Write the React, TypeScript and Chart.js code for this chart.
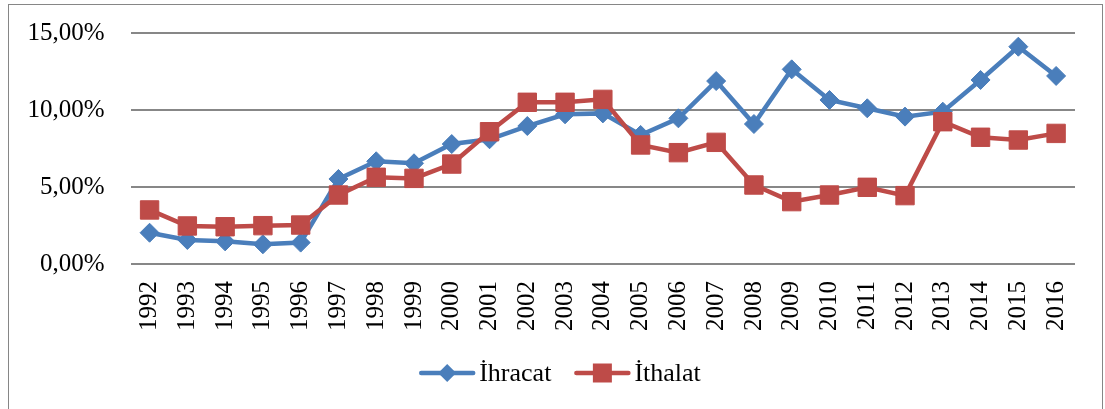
import React, { useEffect, useRef } from "react";
import { Chart, registerables } from "chart.js";

Chart.register(...registerables);

const years = ["1992","1993","1994","1995","1996","1997","1998","1999","2000","2001","2002","2003","2004","2005","2006","2007","2008","2009","2010","2011","2012","2013","2014","2015","2016"];
const ihracat = [2.03,1.56,1.47,1.28,1.39,5.52,6.67,6.54,7.79,8.1,8.96,9.72,9.78,8.38,9.46,11.88,9.09,12.64,10.65,10.11,9.57,9.89,11.95,14.11,12.21];
const ithalat = [3.51,2.47,2.42,2.49,2.53,4.48,5.63,5.56,6.49,8.59,10.5,10.5,10.69,7.73,7.23,7.9,5.13,4.05,4.48,4.98,4.44,9.24,8.23,8.05,8.48];
const seriesNames = ["İhracat", "İthalat"];
const seriesColors = ["#4A7EBB", "#BE4B48"];
const seriesShapes = ["rectRot", "rect"];
const yTicks = [0, 5, 10, 15];

const FONT = "'Liberation Serif', 'Times New Roman', serif";

const framePlugin = {
  id: "frame",
  beforeDraw(chart: any) {
    const ctx = chart.ctx;
    ctx.save();
    ctx.fillStyle = "#ffffff";
    ctx.fillRect(0, 0, chart.width, chart.height);
    ctx.strokeStyle = "#868686";
    ctx.lineWidth = 1;
    ctx.strokeRect(8.5, 4.5, 1094, 430);
    ctx.restore();
  },
  afterDraw(chart: any) {
    const ctx = chart.ctx;
    ctx.save();
    ctx.font = `26px ${FONT}`;
    ctx.textBaseline = "middle";
    const lineLen = 56;
    const gapText = 4;
    const gapItem = 23;
    const ds = chart.data.datasets;
    const widths = ds.map((d: any) => lineLen + gapText + ctx.measureText(d.label).width);
    const total = widths.reduce((a: number, b: number) => a + b, 0) + gapItem * (ds.length - 1);
    let x = 560 - total / 2;
    const y = 373;
    ds.forEach((d: any, i: number) => {
      ctx.strokeStyle = d.borderColor;
      ctx.lineWidth = 4.5;
      ctx.lineCap = "round";
      ctx.beginPath();
      ctx.moveTo(x + 2, y);
      ctx.lineTo(x + lineLen - 2, y);
      ctx.stroke();
      const cx = x + lineLen / 2;
      ctx.fillStyle = d.backgroundColor;
      ctx.beginPath();
      if (d.pointStyle === "rectRot") {
        const r = 9;
        ctx.moveTo(cx - r, y);
        ctx.lineTo(cx, y - r);
        ctx.lineTo(cx + r, y);
        ctx.lineTo(cx, y + r);
        ctx.closePath();
      } else {
        const s = 9.5;
        ctx.rect(cx - s, y - s, 2 * s, 2 * s);
      }
      ctx.fill();
      ctx.fillStyle = "#000000";
      ctx.textAlign = "left";
      ctx.fillText(d.label, x + lineLen + gapText, y + 1);
      x += widths[i] + gapItem;
    });
    ctx.restore();
  },
};

export default function App() {
  const ref = useRef<HTMLCanvasElement | null>(null);
  useEffect(() => {
    if (!ref.current) return;
    const data = [ihracat, ithalat];
    const chart = new Chart(ref.current, {
      type: "line",
      data: {
        labels: years,
        datasets: data.map((vals, i) => ({
          label: seriesNames[i],
          data: vals,
          borderColor: seriesColors[i],
          backgroundColor: seriesColors[i],
          pointBackgroundColor: seriesColors[i],
          pointBorderColor: seriesColors[i],
          pointBorderWidth: 1,
          pointStyle: seriesShapes[i] as any,
          pointRadius: i === 0 ? 9.5 : 13,
          borderWidth: 4.5,
          tension: 0,
          fill: false,
          order: i === 0 ? 1 : 0,
        })),
      },
      options: {
        responsive: false,
        animation: false,
        layout: { padding: { left: 0, top: 33, right: 30, bottom: 0 } },
        plugins: {
          legend: { display: false },
          tooltip: { enabled: false },
        },
        scales: {
          x: {
            offset: true,
            grid: { display: false, drawTicks: false },
            border: { display: false },
            ticks: {
              autoSkip: false,
              minRotation: 90,
              maxRotation: 90,
              padding: 17,
              color: "#000000",
              font: { family: FONT, size: 25 },
            },
            afterFit(scale: any) {
              scale.height = 145;
              scale.paddingLeft = 0;
              scale.paddingRight = 0;
            },
          },
          y: {
            min: 0,
            max: 15,
            afterBuildTicks(scale: any) {
              scale.ticks = yTicks.map((v) => ({ value: v }));
            },
            grid: { color: "#878787", lineWidth: 2, drawTicks: false },
            border: { display: false },
            ticks: {
              padding: 26,
              color: "#000000",
              font: { family: FONT, size: 25 },
              callback: (v: any) => Number(v).toFixed(2).replace(".", ",") + "%",
            },
            afterFit(scale: any) {
              scale.width = 130.7;
              scale.paddingTop = 0;
              scale.paddingBottom = 0;
            },
          },
        },
      },
      plugins: [framePlugin],
    });
    return () => chart.destroy();
  }, []);
  return (
    <div style={{ position: "fixed", left: 0, top: 0, width: 1105, height: 409, background: "#fff" }}>
      <canvas ref={ref} width={1105} height={409} style={{ display: "block" }} />
    </div>
  );
}
